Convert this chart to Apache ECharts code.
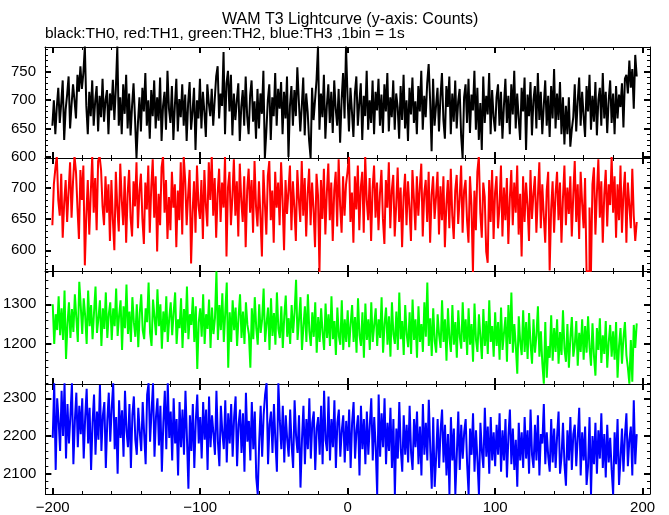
<!DOCTYPE html>
<html><head><meta charset="utf-8">
<script src="https://cdn.jsdelivr.net/npm/echarts@6/dist/echarts.min.js"></script>
<style>html,body{margin:0;padding:0;background:#fff}#c{width:669px;height:515px}</style>
</head><body><div id="c"></div>
<script>
const binStart = -200;
const binWidth = 1;

const th0 = [
655,700,640,688,722,660,695,735,630,684,710,742,650,692,728,700,668,745,715,760,
720,748,795,690,640,715,672,735,655,698,725,645,708,670,738,662,700,718,640,712,
682,736,665,720,795,655,705,640,728,676,745,650,712,638,690,730,668,598,660,705,
645,722,680,748,655,700,632,718,672,735,650,705,664,740,628,690,715,648,752,685,
660,725,630,690,738,645,702,670,728,655,710,628,695,732,648,680,722,612,700,668,
738,650,715,680,635,728,695,672,720,655,700,742,760,668,712,690,785,640,730,752,
680,745,638,712,665,700,730,628,688,718,655,742,672,640,708,735,662,698,632,720,
650,712,676,752,598,645,700,728,630,705,672,748,655,720,685,732,640,715,668,742,
600,690,725,655,718,672,758,700,645,688,740,638,712,680,628,598,722,665,700,735,
795,648,712,670,745,632,690,728,660,715,642,735,685,655,720,625,700,748,668,795,
708,645,722,680,635,712,742,655,695,730,630,708,672,752,648,700,660,735,640,715,
682,738,655,710,642,728,680,748,645,705,670,735,648,712,688,632,725,665,745,650,
700,628,722,675,740,660,698,640,725,680,752,648,708,670,730,764,700,610,738,655,
690,722,645,705,748,665,632,725,688,742,640,712,662,735,650,698,720,638,598,705,
728,660,738,642,710,682,752,648,722,630,695,612,742,660,708,675,748,640,718,670,
645,705,728,655,715,632,690,738,660,708,640,728,675,752,650,712,668,630,722,680,
740,612,710,672,732,638,700,725,650,748,665,715,640,690,735,655,708,635,725,668,
755,650,712,665,732,640,705,622,690,640,705,618,648,670,728,645,698,740,655,715,
672,635,725,680,745,648,708,662,732,638,700,722,655,748,668,715,642,700,735,660,
712,640,725,668,710,688,730,652,738,745,712,770,722,755,685,780,742
];

const th1 = [
640,705,730,750,680,655,722,620,675,712,645,695,740,652,710,750,725,668,618,728,
680,735,576,655,712,625,690,750,660,715,632,742,750,728,670,640,718,660,705,615,
712,648,600,725,668,630,738,680,640,718,612,690,728,652,622,710,670,740,635,695,
722,650,610,708,665,735,628,700,745,652,718,598,690,640,732,750,660,712,618,685,
632,725,668,705,605,695,648,740,625,750,712,640,688,728,579,660,710,628,735,672,
650,712,618,728,672,638,740,680,750,655,715,620,690,730,645,708,668,750,590,700,
725,640,685,745,655,710,622,738,680,645,718,605,695,730,660,712,628,742,670,638,
710,655,590,728,675,625,718,742,648,695,612,725,668,708,640,740,680,600,712,658,
695,735,632,710,668,615,728,682,645,742,655,715,622,690,730,640,708,665,605,722,
688,565,712,650,730,625,692,738,648,708,615,695,725,638,745,672,628,718,655,705,
725,750,645,692,612,718,665,735,632,700,725,628,750,680,648,715,615,698,735,652,
708,632,690,728,650,610,712,668,740,635,695,720,622,672,732,645,700,605,685,722,
640,710,668,615,728,682,632,718,655,700,738,622,690,712,645,725,612,688,718,650,
685,725,625,702,648,718,605,672,712,635,730,655,618,695,720,642,682,735,628,695,
712,648,612,718,672,565,695,632,725,750,660,620,708,685,598,580,712,645,728,618,
692,718,635,670,735,622,700,648,715,610,682,728,640,708,660,735,625,690,590,718,
645,708,672,615,728,650,690,718,628,685,740,635,705,655,612,695,725,568,665,710,
628,690,725,648,708,612,682,735,640,700,658,718,622,688,742,645,705,618,725,675,
635,715,567,565,668,566,705,732,625,690,745,652,710,612,688,728,638,705,672,750,
660,718,620,705,648,735,628,690,725,612,708,672,635,730,655,615,645
];

const th2 = [
1300,1200,1275,1235,1320,1222,1290,1210,1335,1162,1250,1305,1215,1288,1230,1325,1265,1205,1357,1295,
1225,1315,1270,1200,1335,1245,1298,1212,1280,1345,1228,1265,1310,1195,1290,1238,1330,1215,1275,1305,
1210,1290,1245,1340,1220,1272,1310,1185,1295,1240,1350,1225,1282,1205,1318,1255,1218,1300,1192,1278,
1325,1235,1212,1290,1255,1355,1228,1195,1312,1268,1222,1338,1245,1300,1188,1282,1230,1320,1205,1265,
1305,1222,1280,1330,1200,1262,1240,1315,1190,1288,1228,1345,1212,1275,1248,1318,1205,1295,1137,1255,
1290,1218,1325,1200,1275,1238,1312,1190,1292,1225,1265,1383,1210,1298,1235,1328,1205,1280,1355,1140,
1280,1205,1310,1235,1292,1195,1268,1325,1215,1282,1200,1305,1248,1225,1140,1290,1212,1318,1240,1198,
1300,1228,1262,1340,1205,1252,1292,1185,1315,1220,1278,1198,1330,1238,1215,1295,1190,1270,1322,1218,
1265,1200,1298,1228,1280,1362,1210,1262,1318,1185,1245,1295,1205,1325,1232,1195,1280,1218,1305,1178,
1268,1205,1290,1228,1185,1302,1215,1275,1195,1320,1212,1258,1172,1292,1220,1198,1310,1185,1262,1205,
1285,1192,1250,1298,1205,1268,1178,1315,1222,1195,1280,1165,1302,1210,1262,1185,1305,1205,1248,1290,
1195,1262,1215,1318,1178,1250,1292,1198,1270,1168,1305,1225,1200,1282,1185,1330,1212,1258,1172,1298,
1225,1192,1280,1175,1312,1210,1262,1165,1295,1205,1250,1180,1305,1218,1355,1195,1265,1170,1290,1208,
1178,1275,1222,1190,1310,1205,1262,1158,1290,1215,1180,1298,1198,1255,1165,1285,1218,1188,1305,1205,
1262,1172,1290,1198,1250,1155,1302,1210,1180,1275,1218,1162,1288,1195,1258,1175,1310,1205,1245,1168,
1280,1195,1255,1160,1292,1185,1228,1268,1155,1298,1200,1330,1178,1250,1195,1125,1270,1205,1172,1285,
1180,1255,1162,1278,1200,1150,1262,1178,1222,1295,1168,1232,1150,1100,1255,1115,1195,1165,1272,1158,
1240,1180,1262,1150,1230,1172,1285,1188,1155,1250,1140,1215,1268,1168,1198,1258,1145,1228,1180,1262,
1160,1245,1178,1270,1192,1145,1252,1170,1120,1240,1185,1265,1152,1222,1175,1258,1140,1205,1248,1168,
1232,1160,1255,1115,1195,1240,1150,1215,1255,1172,1140,1100,1210,1105,1248,1190,1252
];

const th3 = [
2195,2340,2110,2300,2240,2160,2320,2200,2340,2140,2285,2180,2255,2340,2125,2240,2315,2170,2280,2205,
2300,2140,2250,2325,2180,2275,2110,2235,2310,2150,2265,2190,2335,2160,2255,2290,2115,2240,2315,2185,
2275,2340,2165,2250,2100,2295,2195,2268,2145,2320,2215,2170,2285,2115,2255,2305,2190,2150,2275,2210,
2160,2290,2205,2125,2310,2340,2185,2265,2340,2145,2250,2300,2175,2280,2105,2235,2320,2165,2340,2195,
2265,2135,2300,2180,2245,2095,2290,2170,2270,2150,2320,2195,2060,2255,2160,2285,2115,2240,2310,2180,
2250,2140,2290,2190,2270,2110,2305,2170,2255,2205,2150,2320,2185,2120,2280,2210,2165,2295,2130,2260,
2180,2285,2145,2250,2305,2120,2230,2270,2155,2260,2105,2315,2185,2240,2135,2290,2165,2265,2090,2045,
2185,2280,2145,2255,2310,2340,2125,2230,2265,2155,2285,2185,2105,2340,2240,2165,2280,2130,2255,2190,
2145,2270,2175,2115,2295,2200,2155,2255,2063,2190,2280,2125,2245,2165,2300,2140,2235,2265,2110,2220,
2250,2150,2280,2125,2320,2190,2160,2305,2135,2245,2170,2295,2115,2235,2270,2145,2215,2255,2130,2240,
2160,2270,2115,2235,2290,2140,2215,2255,2095,2280,2165,2245,2125,2265,2150,2230,2300,2135,2250,2170,
2045,2310,2145,2260,2170,2300,2125,2235,2160,2275,2115,2245,2045,2220,2140,2290,2165,2105,2255,2150,
2230,2130,2280,2155,2110,2245,2170,2265,2125,2225,2095,2285,2150,2235,2135,2296,2165,2060,2250,2065,
2145,2245,2115,2215,2270,2130,2230,2095,2205,2045,2250,2135,2220,2045,2150,2265,2110,2230,2140,2210,
2245,2125,2045,2220,2150,2260,2105,2215,2135,2045,2235,2160,2115,2275,2145,2225,2100,2250,2135,2210,
2120,2230,2150,2260,2105,2215,2135,2245,2090,2200,2270,2125,2220,2110,2190,2065,2235,2135,2210,2115,
2250,2140,2215,2100,2270,2150,2115,2230,2135,2255,2095,2205,2180,2285,2125,2210,2145,2105,2245,2130,
2220,2115,2200,2265,2100,2145,2235,2125,2068,2215,2135,2250,2110,2205,2230,2120,2195,2275,2095,2210,
2135,2225,2070,2120,2250,2045,2200,2125,2235,2100,2215,2140,2260,2115,2205,2090,2230,2130,2195,2110,
2045,2210,2125,2245,2070,2140,2220,2105,2200,2260,2120,2190,2225,2095,2295,2125,2205
];

const xMajorTicks = [-200, -100, 0, 100, 200];
const xMinorTicks = [-200,-180,-160,-140,-120,-100,-80,-60,-40,-20,0,20,40,60,80,100,120,140,160,180,200];

const yMajorTicks = [
  [600, 650, 700, 750],
  [600, 650, 700],
  [1200, 1300],
  [2100, 2200, 2300]
];
const yMinorTicks = [
  [600,610,620,630,640,650,660,670,680,690,700,710,720,730,740,750,760,770,780,790],
  [570,580,590,600,610,620,630,640,650,660,670,680,690,700,710,720,730,740],
  [1100,1120,1140,1160,1180,1200,1220,1240,1260,1280,1300,1320,1340,1360,1380],
  [2060,2080,2100,2120,2140,2160,2180,2200,2220,2240,2260,2280,2300,2320]
];
const yRanges = [[598, 794], [567, 747], [1099, 1384], [2046, 2338]];

const titleText = 'WAM T3 Lightcurve (y-axis: Counts)';
const subtitleText = 'black:TH0, red:TH1, green:TH2, blue:TH3 ,1bin = 1s';
const seriesNames = ['TH0', 'TH1', 'TH2', 'TH3'];
const seriesValues = [th0, th1, th2, th3];
const seriesColors = ['#000000', '#ff0000', '#00ff00', '#0000ff'];

const FONT = '"Liberation Sans", Arial, Helvetica, sans-serif';
const gridTops = [47, 158, 271, 384];
const gridHeights = [111, 113, 113, 112];

const grids = [], xAxes = [], yAxes = [], series = [];
for (let g = 0; g < 4; g++) {
  grids.push({ left: 45, width: 605, top: gridTops[g], height: gridHeights[g], show: false });
  const isBottom = g === 3;
  ['bottom', 'top'].forEach(function (pos) {
    xAxes.push({
      type: 'value', gridIndex: g, position: pos, min: -205, max: 205,
      axisLine: { show: true, onZero: false, lineStyle: { color: '#000', width: 1 } },
      splitLine: { show: false },
      axisTick: { show: true, inside: true, length: 6, customValues: xMajorTicks, lineStyle: { color: '#000', width: 2 } },
      axisLabel: { show: isBottom && pos === 'bottom', customValues: xMajorTicks, margin: 6, color: '#000',
        fontFamily: FONT, fontSize: 15, formatter: function (v) { return String(v).replace('-', '\u2212'); } }
    });
    xAxes.push({
      type: 'value', gridIndex: g, position: pos, min: -205, max: 205,
      axisLine: { show: false, onZero: false },
      splitLine: { show: false },
      axisTick: { show: true, inside: true, length: 3, customValues: xMinorTicks, lineStyle: { color: '#000', width: 1 } },
      axisLabel: { show: false }
    });
  });
  ['left', 'right'].forEach(function (pos) {
    yAxes.push({
      type: 'value', gridIndex: g, position: pos, min: yRanges[g][0], max: yRanges[g][1],
      axisLine: { show: true, onZero: false, lineStyle: { color: '#000', width: 1 } },
      splitLine: { show: false },
      axisTick: { show: true, inside: true, length: 6, customValues: yMajorTicks[g], lineStyle: { color: '#000', width: 2 } },
      axisLabel: { show: pos === 'left', customValues: yMajorTicks[g], margin: 9, color: '#000',
        fontFamily: FONT, fontSize: 15, formatter: function (v) { return String(v); } }
    });
    yAxes.push({
      type: 'value', gridIndex: g, position: pos, min: yRanges[g][0], max: yRanges[g][1],
      axisLine: { show: false, onZero: false },
      splitLine: { show: false },
      axisTick: { show: true, inside: true, length: 3, customValues: yMinorTicks[g], lineStyle: { color: '#000', width: 1 } },
      axisLabel: { show: false }
    });
  });
  series.push({
    name: seriesNames[g], type: 'line', step: 'end', xAxisIndex: g * 4, yAxisIndex: g * 4,
    showSymbol: false, symbol: 'none', clip: true, animation: false,
    lineStyle: { color: seriesColors[g], width: 2 },
    data: seriesValues[g].map(function (v, i) { return [binStart + i * binWidth, v]; })
  });
}

const chart = echarts.init(document.getElementById('c'), null, { renderer: 'canvas' });
chart.setOption({
  backgroundColor: '#fff',
  animation: false,
  title: [
    { text: titleText, left: 222, top: 12, padding: 0, textStyle: { fontFamily: FONT, fontSize: 16, fontWeight: 'normal', color: '#000' } },
    { text: subtitleText, left: 45, top: 26, padding: 0, textStyle: { fontFamily: FONT, fontSize: 15.5, fontWeight: 'normal', color: '#000' } }
  ],
  grid: grids,
  xAxis: xAxes,
  yAxis: yAxes,
  series: series
});
</script>
</body></html>
